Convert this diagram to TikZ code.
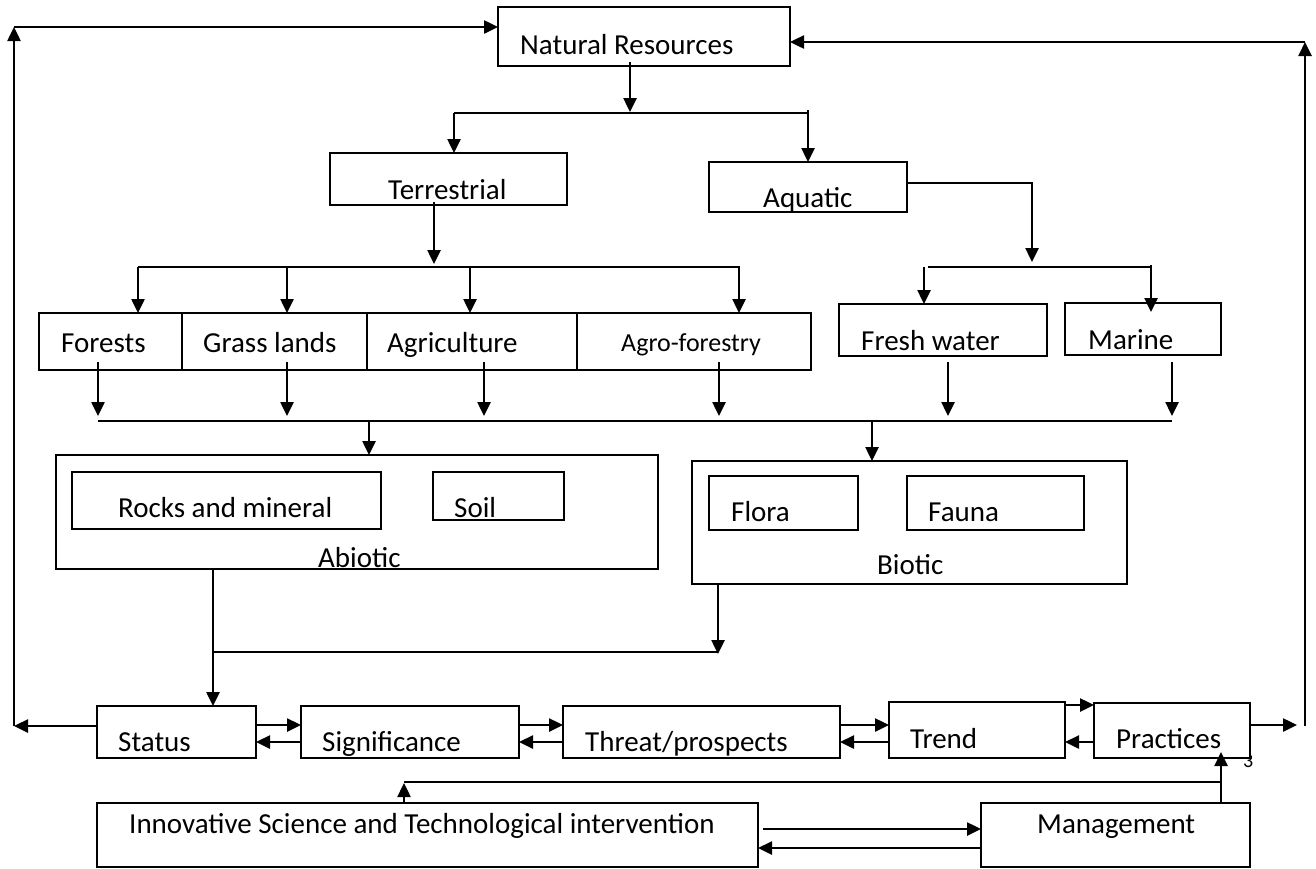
\documentclass[tikz,border=0pt]{standalone}
\usepackage{fontspec}
\setmainfont{Carlito}
\usetikzlibrary{arrows.meta}
\newcommand\mybox[5]{\node[box, minimum width={(#4-#2)*1pt}, minimum height={(#5-#3)*1pt}] (#1) at ({(#2+#4)/2},{(#3+#5)/2}) {};}
\begin{document}
\begin{tikzpicture}[x=1pt,y=-1pt,
  box/.style={draw, line width=2pt, fill=white, inner sep=0pt, outer sep=0pt, rectangle},
  txt/.style={anchor=base west, inner sep=0pt, font=\fontsize{29}{32}\selectfont},
  stxt/.style={anchor=base west, inner sep=0pt, font=\fontsize{26}{30}\selectfont},
  arr/.style={line width=2.5pt, -{Triangle[length=14pt,width=13pt]}},
  ln/.style={line width=2pt}]
\useasboundingbox (0,0) rectangle (1316,868);
\fill[white] (0,0) rectangle (1316,868);
% page number partly behind Practices
\node[anchor=base west, inner sep=0pt, font=\fontsize{20}{22}\selectfont] (pg) at (1243,767) {3};
% boxes
\mybox{nr}{498}{7}{790}{66}
\mybox{terr}{330}{153}{567}{205}
\mybox{aqua}{709}{162}{907}{212}
\mybox{forest}{39}{313}{182}{370}
\mybox{grass}{182}{313}{367}{370}
\mybox{agri}{367}{313}{577}{370}
\mybox{agro}{577}{313}{811}{370}
\mybox{fresh}{839}{304}{1047}{356}
\mybox{marine}{1065}{303}{1221}{355}
\mybox{abio}{56}{455}{658}{569}
\mybox{rocks}{72}{472}{381}{529}
\mybox{soil}{433}{472}{564}{520}
\mybox{bio}{692}{461}{1127}{584}
\mybox{flora}{709}{476}{858}{530}
\mybox{fauna}{907}{476}{1084}{530}
\mybox{status}{97}{706}{256}{758}
\mybox{sig}{301}{706}{519}{758}
\mybox{threat}{563}{706}{840}{758}
\mybox{trend}{889}{702}{1065}{758}
\mybox{prac}{1094}{703}{1250}{758}
\mybox{innov}{97}{803}{758}{867}
\mybox{mgmt}{981}{803}{1250}{867}
% texts
\node[txt] (tnr) at (520,54) {Natural Resources};
\node[txt] (tterr) at (388,199) {Terrestrial};
\node[txt] (taqua) at (763,207) {Aquatic};
\node[txt] (tforest) at (61,352) {Forests};
\node[txt] (tgrass) at (203,352) {Grass lands};
\node[txt] (tagri) at (387,352) {Agriculture};
\node[stxt] (tagro) at (621,351) {Agro-forestry};
\node[txt] (tfresh) at (861,350) {Fresh water};
\node[txt] (tmarine) at (1088,349) {Marine};
\node[txt] (trocks) at (118,517) {Rocks and mineral};
\node[txt] (tsoil) at (454,517) {Soil};
\node[txt] (tabio) at (318,567) {Abiotic};
\node[txt] (tflora) at (731,521) {Flora};
\node[txt] (tfauna) at (928,521) {Fauna};
\node[txt] (tbio) at (877,574) {Biotic};
\node[txt] (tstatus) at (118,751) {Status};
\node[txt] (tsig) at (322,751) {Significance};
\node[txt] (tthreat) at (585,751) {Threat/prospects};
\node[txt] (ttrend) at (910,748) {Trend};
\node[txt] (tprac) at (1116,748) {Practices};
\node[txt] (tinnov) at (129,833) {Innovative Science and Technological intervention};
\node[txt] (tmgmt) at (1037,833) {Management};
% junction coordinates
\coordinate (lb) at (14,726);
\coordinate (lt) at (14,27);
\coordinate (rb) at (1305,726);
\coordinate (rt) at (1305,42);
% outer loops
\draw[arr] (status.west |- lb) -- (lb);
\draw[arr] (lb) -- (lt);
\draw[arr] (lt) -- (nr.west |- lt);
\draw[arr] (prac.east |- 0,725) -- (1297,725);
\draw[arr] (rb) -- (rt);
\draw[arr] (rt) -- (nr.east |- rt);
% natural resources split
\draw[arr] (630,62) -- (630,112);
\draw[ln] (454,113) -- (808,113);
\draw[arr] (454,113) -- (terr.north -| 454,0);
\draw[arr] (808,110) -- (aqua.north -| 808,0);
% terrestrial split
\draw[arr] (434,202) -- (434,264);
\draw[ln] (138,267) -- (739,267);
\draw[arr] (138,267) -- (forest.north -| 138,0);
\draw[arr] (287,267) -- (grass.north -| 287,0);
\draw[arr] (470,267) -- (agri.north -| 470,0);
\draw[arr] (739,266) -- (agro.north -| 739,0);
% aquatic split
\draw[arr] (aqua.east |- 0,183) -- (1032,183) -- (1032,262);
\draw[ln] (928,267) -- (1151,267);
\draw[arr] (924,267) -- (fresh.north -| 924,0);
\draw[arr] (1151,265) -- (1151,312);
% down to collector
\draw[arr] (98,362) -- (98,416);
\draw[arr] (287,362) -- (287,416);
\draw[arr] (484,362) -- (484,416);
\draw[arr] (719,362) -- (719,416);
\draw[arr] (948,362) -- (948,416);
\draw[arr] (1172,362) -- (1172,416);
\draw[ln] (98,421) -- (1172,421);
\draw[arr] (369,421) -- (abio.north -| 369,0);
\draw[arr] (872,421) -- (bio.north -| 872,0);
% abiotic / biotic to status
\draw[arr] (abio.south -| 213,0) -- (status.north -| 213,0);
\draw[ln] (213,652) -- (718,652);
\draw[arr] (bio.south -| 718,0) -- (718,654);
% bottom row
\draw[arr] (status.east |- 0,725) -- (sig.west |- 0,725);
\draw[arr] (sig.west |- 0,742) -- (status.east |- 0,742);
\draw[arr] (sig.east |- 0,725) -- (threat.west |- 0,725);
\draw[arr] (threat.west |- 0,742) -- (sig.east |- 0,742);
\draw[arr] (threat.east |- 0,725) -- (trend.west |- 0,725);
\draw[arr] (trend.west |- 0,742) -- (threat.east |- 0,742);
\draw[arr] (trend.east |- 0,705) -- (prac.west |- 0,705);
\draw[arr] (prac.west |- 0,742) -- (trend.east |- 0,742);
% management
\draw[arr] (mgmt.north -| 1221,0) -- (1221,752);
\draw[ln] (1221,782) -- (404,782);
\draw[arr] (innov.north -| 404,0) -- (404,783);
\draw[arr] (763,829) -- (mgmt.west |- 0,829);
\draw[arr] (mgmt.west |- 0,848) -- (innov.east |- 0,848);
\end{tikzpicture}
\end{document}
